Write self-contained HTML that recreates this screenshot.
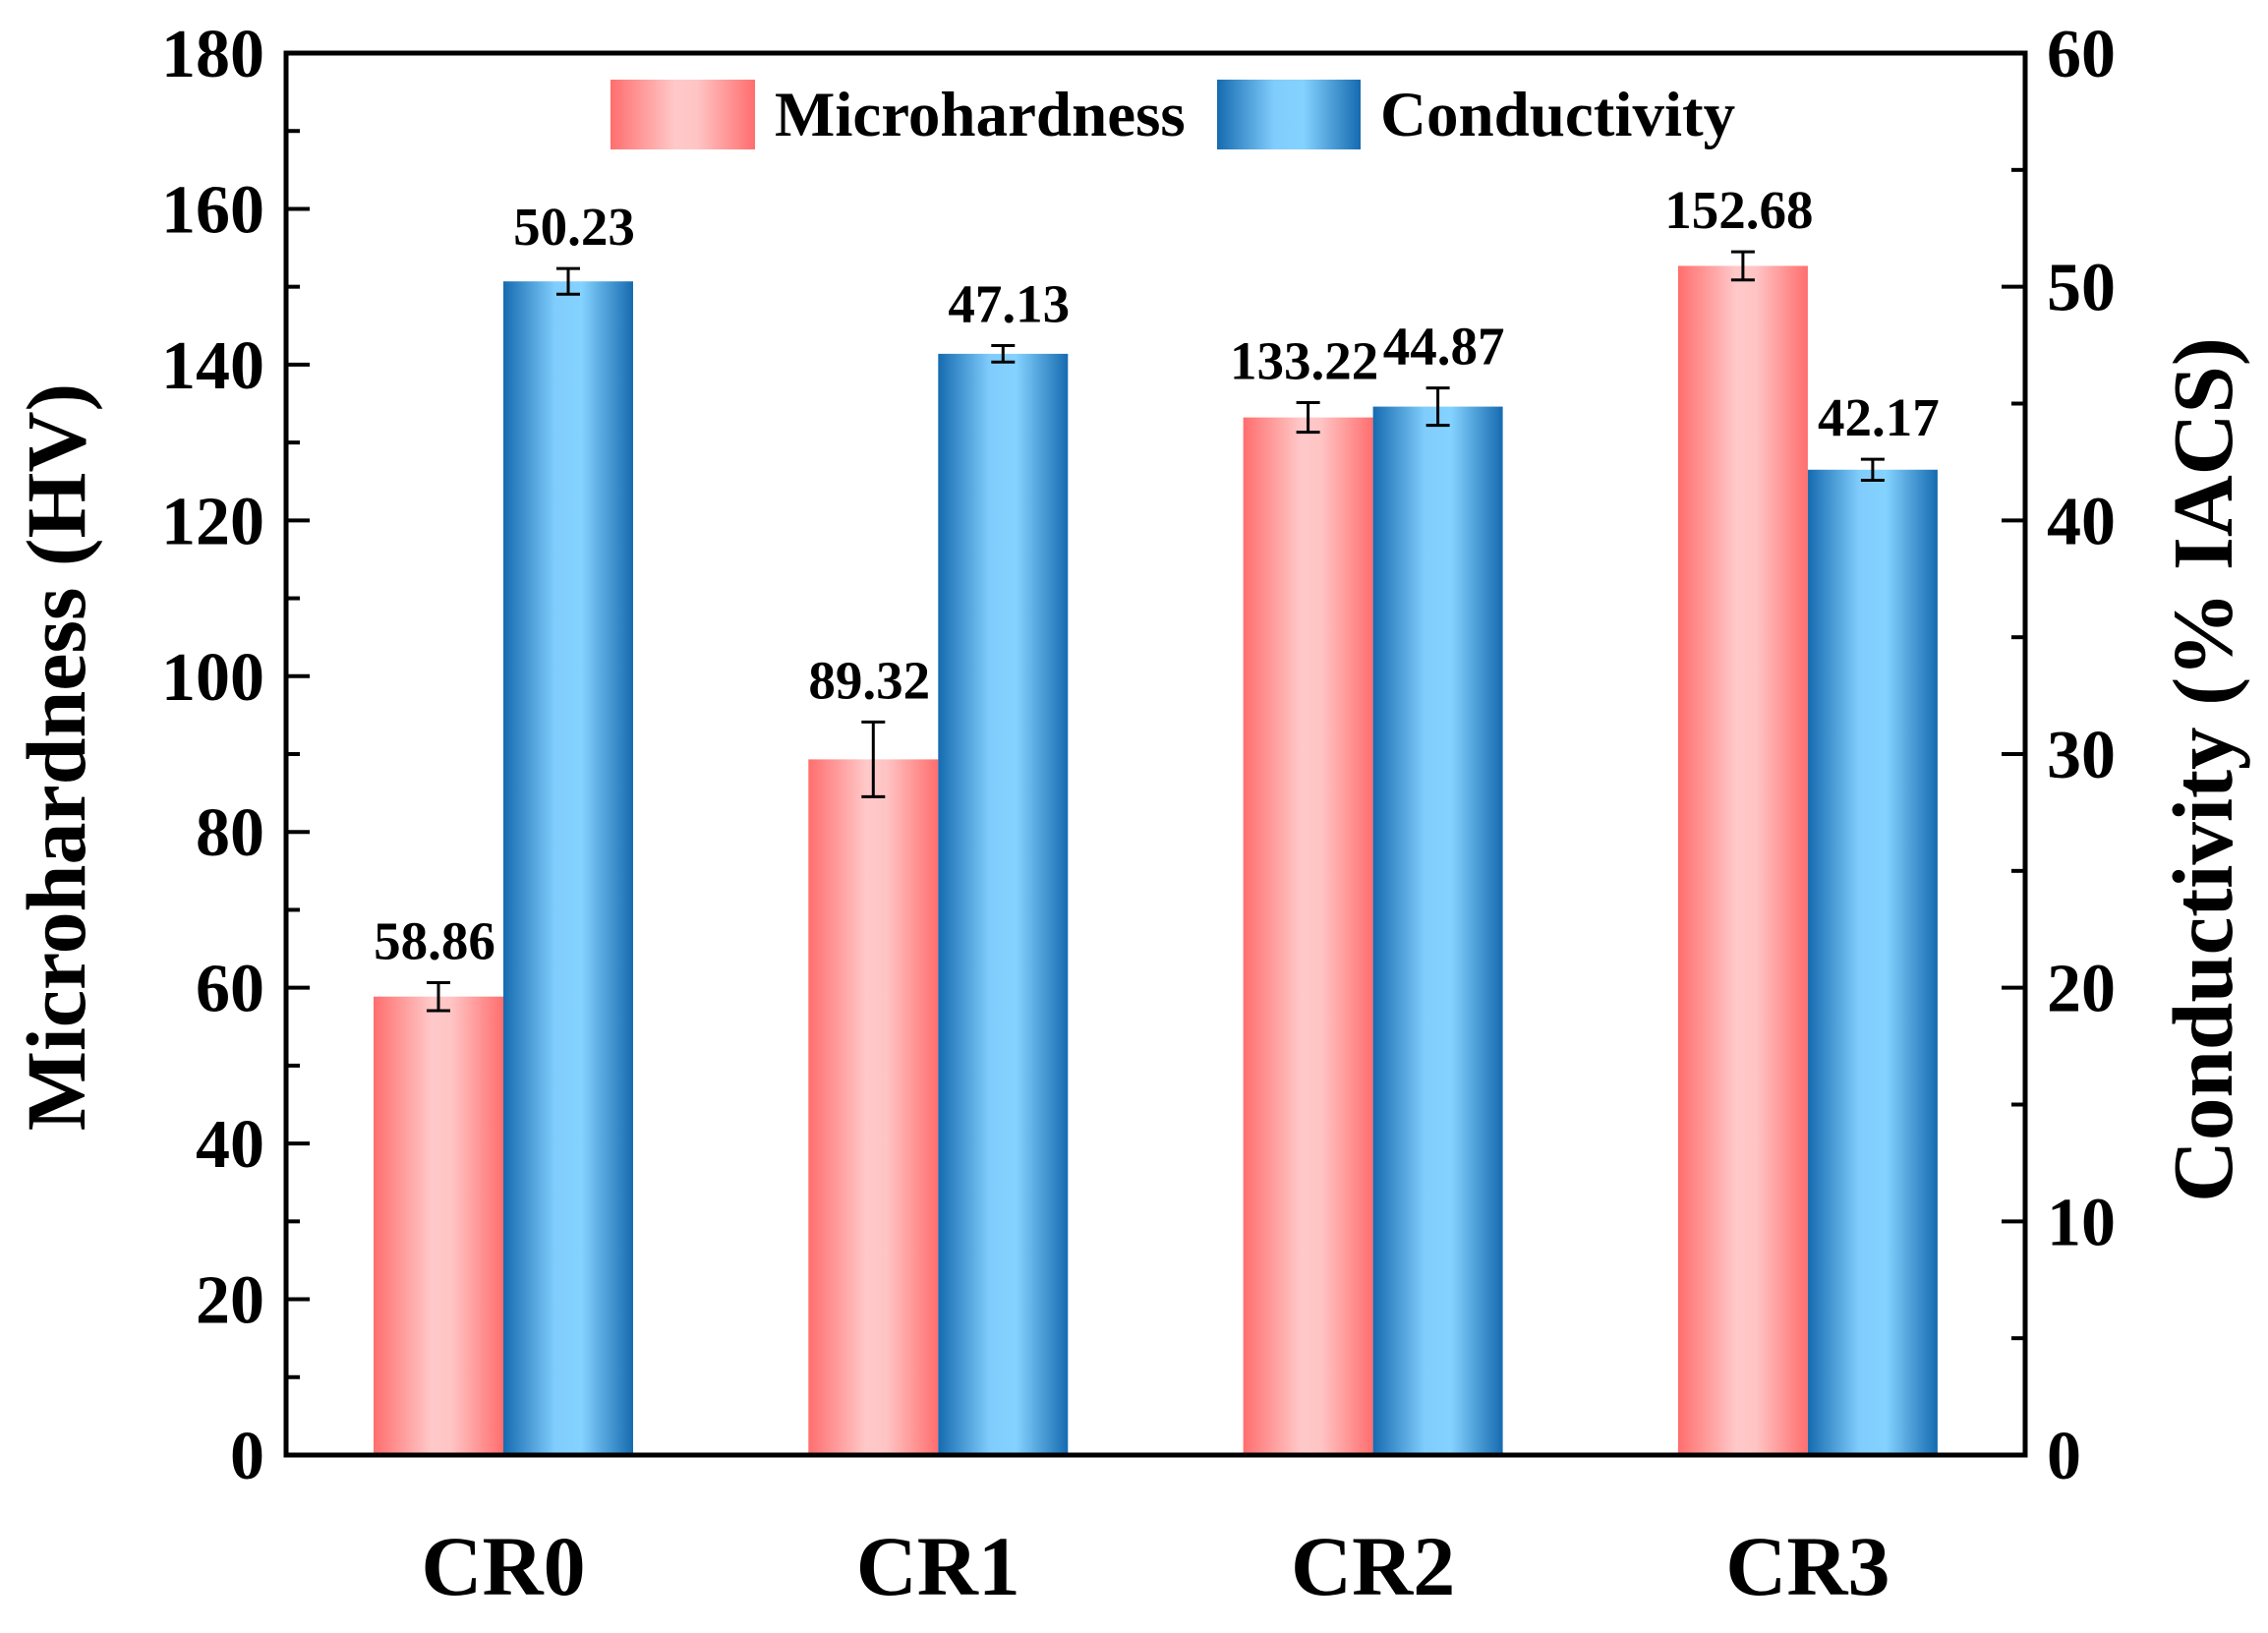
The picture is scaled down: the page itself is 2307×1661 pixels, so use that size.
<!DOCTYPE html>
<html><head><meta charset="utf-8"><style>
html,body{margin:0;padding:0;background:#fff;}
svg text{font-family:"Liberation Serif",serif;font-weight:bold;fill:#000;}
</style></head><body>
<svg id="chart" width="2307" height="1656" viewBox="0 0 2307 1656" xmlns="http://www.w3.org/2000/svg">
<defs>
<linearGradient id="gPink" x1="0" x2="1" y1="0" y2="0">
<stop offset="0" stop-color="#ff6e6e"/><stop offset="0.45" stop-color="#ffc9c9"/><stop offset="0.6" stop-color="#ffc4c4"/><stop offset="1" stop-color="#ff6e6e"/>
</linearGradient>
<linearGradient id="gBlue" x1="0" x2="1" y1="0" y2="0">
<stop offset="0" stop-color="#166bb0"/><stop offset="0.4" stop-color="#80cdfd"/><stop offset="0.6" stop-color="#84d2ff"/><stop offset="1" stop-color="#166bb0"/>
</linearGradient>
</defs>
<g id="marks"></g>
<g id="axes"></g>
</svg>
<script>
const categories = ["CR0","CR1","CR2","CR3"];
const hardness = [58.86, 89.32, 133.22, 152.68];
const hardnessErr = [1.8, 4.8, 1.9, 1.8];
const hardnessLabels = ["58.86","89.32","133.22","152.68"];
const conductivity = [50.23, 47.13, 44.87, 42.17];
const conductivityErr = [0.55, 0.35, 0.8, 0.45];
const conductivityLabels = ["50.23","47.13","44.87","42.17"];
const leftTicks = [0,20,40,60,80,100,120,140,160,180];
const rightTicks = [0,10,20,30,40,50,60];

const NS = "http://www.w3.org/2000/svg";
const L = 291, R = 2060, T = 54, B = 1480;
const yL = v => B - (v/180)*(B-T);
const yR = v => B - (v/60)*(B-T);
const cx = i => 512 + i*442.3;
const BW = 132;
const marks = document.getElementById('marks');
const axes = document.getElementById('axes');
function mk(tag, attrs, parent){
  const e = document.createElementNS(NS, tag);
  for (const k in attrs) e.setAttribute(k, attrs[k]);
  parent.appendChild(e);
  return e;
}
function errBar(x, top, bot, parent){
  const g = mk('g', {stroke:'#000','stroke-width':3}, parent);
  mk('line', {x1:x, x2:x, y1:top, y2:bot}, g);
  mk('line', {x1:x-12, x2:x+12, y1:top, y2:top}, g);
  mk('line', {x1:x-12, x2:x+12, y1:bot, y2:bot}, g);
  return g;
}
categories.forEach((c, i) => {
  const x0 = cx(i);
  const hy = yL(hardness[i]);
  const hb = mk('rect', {x:x0-BW, y:hy, width:BW, height:B-hy, fill:'url(#gPink)'}, marks);
  
  
  const he = errBar(x0-BW/2, yL(hardness[i]+hardnessErr[i]), yL(hardness[i]-hardnessErr[i]), marks);
  
  
  const ht = mk('text', {x:x0-BW/2-4, y:yL(hardness[i]+hardnessErr[i])-24, 'font-size':55, 'text-anchor':'middle'}, marks);
  ht.textContent = hardnessLabels[i];
  
  
  const cy = yR(conductivity[i]);
  const cb = mk('rect', {x:x0, y:cy, width:BW, height:B-cy, fill:'url(#gBlue)'}, marks);
  
  
  const ce = errBar(x0+BW/2, yR(conductivity[i]+conductivityErr[i]), yR(conductivity[i]-conductivityErr[i]), marks);
  
  
  const ct = mk('text', {x:x0+BW/2+6, y:yR(conductivity[i]+conductivityErr[i])-24, 'font-size':55, 'text-anchor':'middle'}, marks);
  ct.textContent = conductivityLabels[i];
  
  
  const cl = mk('text', {x:x0, y:1622, 'font-size':86, 'text-anchor':'middle'}, axes);
  cl.textContent = c;
  
  
});
const frame = mk('rect', {x:L, y:T, width:R-L, height:B-T, fill:'none', stroke:'#000', 'stroke-width':5}, axes);


for (let v = 0; v <= 180; v += 10) {
  const major = v % 20 === 0;
  mk('line', {x1:L, x2:L+(major?24:14), y1:yL(v), y2:yL(v), stroke:'#000', 'stroke-width':4}, axes);
}
leftTicks.forEach(v => {
  const t = mk('text', {x:L-22, y:yL(v)+24, 'font-size':70, 'text-anchor':'end'}, axes);
  t.textContent = v;
  
  
});
for (let v = 0; v <= 60; v += 5) {
  const major = v % 10 === 0;
  mk('line', {x1:R, x2:R-(major?24:14), y1:yR(v), y2:yR(v), stroke:'#000', 'stroke-width':4}, axes);
}
rightTicks.forEach(v => {
  const t = mk('text', {x:R+22, y:yR(v)+24, 'font-size':70, 'text-anchor':'start'}, axes);
  t.textContent = v;
  
  
});
const lt = mk('text', {x:0, y:0, 'font-size':86, 'text-anchor':'middle', transform:'translate(86,770) rotate(-90)'}, axes);
lt.textContent = 'Microhardness (HV)';


const rt = mk('text', {x:0, y:0, 'font-size':87, 'text-anchor':'middle', transform:'translate(2270,783) rotate(-90)'}, axes);
rt.textContent = 'Conductivity (% IACS)';


const lg = mk('g', {}, axes);


const s1 = mk('rect', {x:621, y:81, width:147, height:71, fill:'url(#gPink)'}, lg);


const l1 = mk('text', {x:788, y:138, 'font-size':65}, lg);
l1.textContent = 'Microhardness';


const s2 = mk('rect', {x:1238, y:81, width:146, height:71, fill:'url(#gBlue)'}, lg);


const l2 = mk('text', {x:1404, y:138, 'font-size':65}, lg);
l2.textContent = 'Conductivity';


</script>
</body></html>
